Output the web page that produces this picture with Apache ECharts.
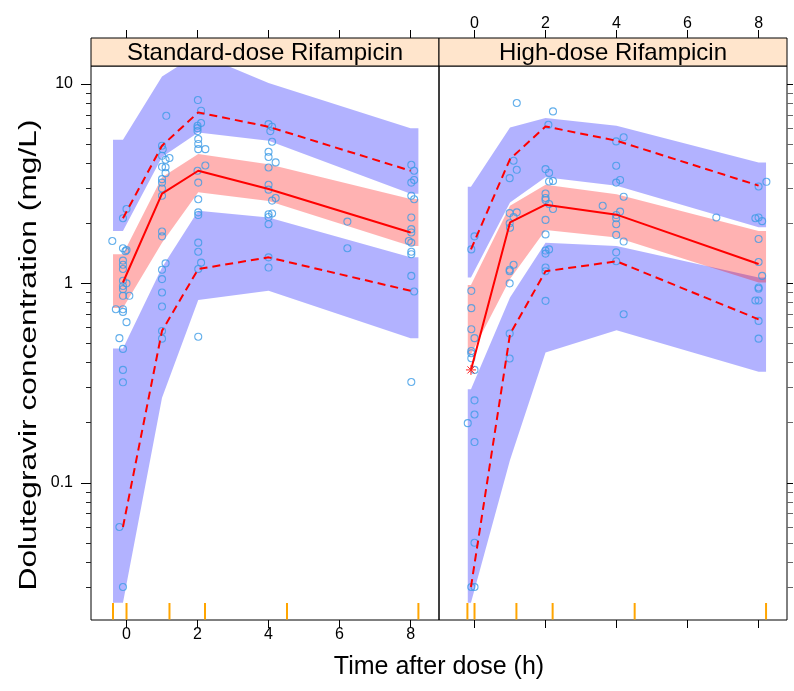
<!DOCTYPE html>
<html><head><meta charset="utf-8">
<script src="https://cdn.jsdelivr.net/npm/echarts@6/dist/echarts.min.js"></script>
<style>html,body{margin:0;padding:0;background:#fff}#c{width:794px;height:691px}</style>
</head><body><div id="c"></div>
<script>
// ---------- tick / label data ----------
const panelTitles = ['Standard-dose Rifampicin', 'High-dose Rifampicin'];
const xTicks = [0, 2, 4, 6, 8];
const yMajor = [0.1, 1, 10];
const yMinor = [0.03,0.04,0.05,0.06,0.07,0.08,0.09,0.2,0.3,0.4,0.5,0.6,0.7,0.8,0.9,2,3,4,5,6,7,8,9];
const xTitle = 'Time after dose (h)';
const yTitle = 'Dolutegravir concentration (mg/L)';

// ---------- Standard-dose panel ----------
const stdBandX      = [-0.38, -0.1, 1.0, 2.02, 4.0, 8.0, 8.22];
const stdHiUpper    = [5.25, 5.25, 10.9, 14.2, 10.1, 6.0, 6.0];
const stdHiLower    = [1.83, 1.83, 4.3, 5.7, 5.19, 2.81, 2.81];
const stdMedUpper   = [1.40, 1.40, 3.4, 4.45, 3.96, 2.65, 2.65];
const stdMedLower   = [0.753, 0.753, 1.6, 2.86, 2.59, 1.54, 1.54];
const stdLoUpper    = [0.471, 0.471, 1.2, 2.31, 2.14, 1.35, 1.35];
const stdLoLower    = [0.025, 0.025, 0.267, 0.824, 0.917, 0.531, 0.531];
const stdNodeX      = [-0.1, 1.0, 2.02, 4.0, 8.0];
const stdMedian     = [1.01, 2.82, 3.67, 2.97, 1.80];
const stdP95        = [2.12, 4.9, 7.2, 6.1, 3.67];
const stdP05        = [0.06, 0.578, 1.18, 1.35, 0.917];
const stdRug        = [-0.38, 0, 1.21, 2.21, 4.52, 8.22];
const stdObs = [
  [-0.40,1.63],[-0.10,2.12],[0.0,2.36],[-0.10,1.50],[0.0,1.47],[-0.03,1.45],[-0.10,1.30],[-0.10,1.24],
  [-0.10,1.18],[-0.10,1.03],[0.0,1.0],[-0.10,0.97],[-0.10,0.935],[-0.10,0.866],[0.08,0.866],[-0.30,0.742],
  [-0.10,0.742],[-0.10,0.719],[0.0,0.639],[-0.20,0.531],[-0.10,0.469],[-0.10,0.368],[-0.10,0.319],
  [-0.20,0.060],[-0.10,0.030],
  [1.12,6.92],[1.0,4.9],[1.02,4.7],[1.0,4.36],[1.21,4.25],[1.1,4.17],[1.0,3.84],[1.1,3.82],[1.1,3.57],
  [1.0,3.33],[1.0,3.2],[1.0,2.99],[1.0,2.75],[1.0,1.82],[1.0,1.72],[1.1,1.26],[1.0,1.17],[1.0,1.05],
  [1.0,0.9],[1.0,0.765],[1.0,0.577],[1.0,0.528],
  [2.01,8.3],[2.1,7.34],[2.1,6.37],[2.0,6.17],[2.0,6.0],[2.0,5.8],[2.02,5.29],[2.02,5.0],[2.02,4.71],
  [2.22,4.71],[2.0,3.67],[2.22,3.9],[2.02,3.2],[2.02,2.64],[2.02,2.27],[2.02,2.2],[2.02,1.6],[2.02,1.44],
  [2.1,1.27],[2.02,1.18],[2.02,0.54],
  [4.0,6.29],[4.1,6.1],[4.05,5.8],[4.1,5.13],[4.0,4.57],[4.0,4.3],[4.2,4.04],[4.0,3.81],[4.0,3.12],
  [4.0,2.95],[4.2,2.68],[4.1,2.6],[4.0,2.22],[4.1,2.24],[4.0,2.15],[4.0,1.98],[4.0,1.35],[4.0,1.2],
  [6.22,2.04],[6.22,1.50],
  [8.02,3.93],[8.1,3.67],[8.1,3.3],[8.02,3.2],[8.02,2.75],[8.1,2.64],[8.02,2.14],[8.02,1.87],[8.02,1.8],
  [7.95,1.63],[8.02,1.6],[8.02,1.44],[8.02,1.4],[8.02,1.09],[8.1,0.91],[8.02,0.32]
];

// ---------- High-dose panel ----------
const highBandX     = [-0.19, -0.1, 1.0, 2.0, 4.0, 8.0, 8.21];
const highHiUpper   = [3.05, 3.05, 6.05, 6.74, 6.17, 4.04, 4.04];
const highHiLower   = [1.07, 1.07, 2.54, 3.40, 3.09, 1.91, 1.91];
const highMedUpper  = [0.98, 0.98, 2.45, 3.12, 2.80, 1.83, 1.83];
const highMedLower  = [0.44, 0.44, 1.05, 1.85, 1.70, 1.01, 1.01];
const highLoUpper   = [0.294, 0.294, 0.85, 1.60, 1.54, 1.07, 1.07];
const highLoLower   = [0.025, 0.025, 0.13, 0.45, 0.582, 0.36, 0.36];
const highNodeX     = [-0.1, 1.0, 2.0, 4.0, 8.0];
const highMedian    = [0.368, 2.02, 2.48, 2.21, 1.25];
const highP95       = [1.48, 4.2, 6.12, 5.19, 3.09];
const highP05       = [0.030, 0.556, 1.15, 1.29, 0.66];
const highRug       = [-0.2, 0, 1.18, 2.2, 4.51, 8.21];
const highObs = [
  [-0.09,1.48],[0.0,1.72],[-0.09,0.917],[-0.09,0.751],[-0.09,0.589],[0.0,0.531],[-0.09,0.458],[-0.09,0.446],
  [-0.09,0.421],[0.0,0.368],[0.0,0.259],[0.0,0.22],[-0.19,0.199],[0.0,0.16],[0.0,0.05],[-0.09,0.03],[0.0,0.03],
  [1.19,8.02],[1.1,4.12],[1.19,3.71],[0.99,3.37],[0.99,2.25],[1.19,2.27],[1.1,2.15],[0.99,2.0],[1.0,1.9],
  [1.1,1.24],[0.99,1.17],[0.99,1.15],[0.99,1.0],[0.99,0.56],[0.99,0.42],
  [2.21,7.28],[2.08,6.24],[2.0,3.74],[2.1,3.58],[2.1,3.24],[2.21,3.26],[2.0,2.82],[2.0,2.68],[2.0,2.62],
  [2.1,2.5],[2.21,2.36],[2.0,2.08],[2.0,1.76],[2.0,1.46],[2.1,1.48],[2.0,1.41],[2.0,1.2],[2.0,1.15],[2.0,0.817],
  [3.99,5.15],[4.2,5.4],[3.99,3.89],[3.99,3.2],[4.1,3.3],[4.2,2.72],[4.1,2.29],[3.99,2.2],[3.99,2.12],
  [3.99,1.98],[3.99,1.75],[4.2,1.62],[3.99,1.43],[3.99,1.29],[4.2,0.70],
  [3.61,2.45],[6.81,2.14],
  [8.22,3.23],[8.0,3.06],[7.91,2.12],[8.0,2.14],[8.1,2.05],[8.0,1.67],[8.0,1.28],[8.1,1.09],[8.0,0.953],
  [8.0,0.94],[8.0,0.82],[7.91,0.82],[8.0,0.648],[8.0,0.528]
];

// ---------- layout / style ----------
const X_MIN = -1.0, X_MAX = 8.8, Y_MIN = 0.0205, Y_MAX = 12.3;
const FONT = '"Liberation Sans", Arial, sans-serif';
const BLUE = 'rgba(0,0,255,0.3)', RED = 'rgba(255,0,0,0.3)';
const PT = '#3c9be6';
const PLOT_TOP = 66, PLOT_H = 554, STRIP_H = 28;
const gridDefs = [{left: 91, width: 348}, {left: 439, width: 348}];

const chart = echarts.init(document.getElementById('c'), null, {renderer: 'canvas'});

function xAxisDef(gi, pos, showLabel) {
  return {
    type: 'value', gridIndex: gi, position: pos, min: X_MIN, max: X_MAX,
    offset: pos === 'top' ? STRIP_H : 0,
    axisLine: {show: false, onZero: false}, splitLine: {show: false},
    axisTick: {show: true, inside: false, length: 8, customValues: xTicks, lineStyle: {color: '#000', width: 1}},
    axisLabel: {show: showLabel, customValues: xTicks, color: '#000', fontSize: 16, fontFamily: FONT, margin: pos === 'top' ? 6 : 7}
  };
}
function yAxisDef(gi, pos, values, len, showLabel, color) {
  return {
    type: 'log', logBase: 10, gridIndex: gi, position: pos, min: Y_MIN, max: Y_MAX,
    axisLine: {show: false, onZero: false}, splitLine: {show: false}, minorTick: {show: false},
    axisTick: {show: true, inside: false, length: len, customValues: values, lineStyle: {color: color, width: 1}},
    axisLabel: {show: showLabel, customValues: values, color: '#000', fontSize: 16, fontFamily: FONT, margin: 18,
      formatter: v => String(+v.toPrecision(6))}
  };
}

function bandSeries(gi, xs, up, lo, color) {
  const verts = xs.map((x, i) => [x, up[i]]).concat(xs.map((x, i) => [x, lo[i]]).reverse());
  return {
    type: 'custom', xAxisIndex: gi * 2, yAxisIndex: gi * 2, clip: true, silent: true, z: 1,
    data: verts,
    renderItem: (params, api) => {
      if (params.dataIndex !== 0) return null;
      return {type: 'polygon', shape: {points: verts.map(v => api.coord(v))}, style: {fill: color}};
    }
  };
}
function lineSeries(gi, xs, ys, dashed) {
  return {
    type: 'line', xAxisIndex: gi * 2, yAxisIndex: gi * 2, silent: true, z: 4,
    data: xs.map((x, i) => [x, ys[i]]), symbol: 'none',
    lineStyle: {color: '#ff0000', width: 2, type: dashed ? [8, 5] : 'solid'}
  };
}
function obsSeries(gi, obs) {
  return {
    type: 'scatter', xAxisIndex: gi * 2, yAxisIndex: gi * 2, silent: true, z: 3,
    data: obs, symbol: 'circle', symbolSize: 7,
    itemStyle: {color: 'rgba(0,0,0,0)', borderColor: PT, borderWidth: 1.1}
  };
}
function rugSeries(gi, xs) {
  return {
    type: 'custom', xAxisIndex: gi * 2, yAxisIndex: gi * 2, silent: true, z: 5,
    data: xs.map(x => [x, Y_MIN]),
    renderItem: (params, api) => {
      const c = api.coord([api.value(0), api.value(1)]);
      return {type: 'line', shape: {x1: c[0], y1: c[1] - 0.5, x2: c[0], y2: c[1] - 17},
        style: {stroke: '#ffa500', lineWidth: 2}};
    }
  };
}
function starSeries(gi, pt) {
  return {
    type: 'custom', xAxisIndex: gi * 2, yAxisIndex: gi * 2, silent: true, z: 6,
    data: [pt],
    renderItem: (params, api) => {
      const c = api.coord([api.value(0), api.value(1)]);
      const r = 5, d = r * 0.7071;
      const seg = (dx, dy) => ({type: 'line', shape: {x1: c[0] - dx, y1: c[1] - dy, x2: c[0] + dx, y2: c[1] + dy},
        style: {stroke: '#ff2020', lineWidth: 1}});
      return {type: 'group', children: [seg(r, 0), seg(0, r), seg(d, d), seg(d, -d)]};
    }
  };
}

const graphics = [];
gridDefs.forEach((g, i) => {
  graphics.push({type: 'rect', silent: true, z: 10,
    shape: {x: g.left, y: PLOT_TOP - STRIP_H, width: g.width, height: STRIP_H},
    style: {fill: '#ffe5cc', stroke: '#000', lineWidth: 1}});
  graphics.push({type: 'text', silent: true, z: 11, x: g.left + g.width / 2, y: PLOT_TOP - STRIP_H / 2 + 1,
    style: {text: panelTitles[i], font: '24px ' + FONT, fill: '#000', textAlign: 'center', textVerticalAlign: 'middle'}});
});
graphics.push({type: 'text', silent: true, x: 439, y: 667,
  style: {text: xTitle, font: '25px ' + FONT, fill: '#000', textAlign: 'center', textVerticalAlign: 'middle'}});
graphics.push({type: 'text', silent: true, x: 30, y: 355, rotation: Math.PI / 2, scaleX: 1.38,
  style: {text: yTitle, font: '23px ' + FONT, fill: '#000', textAlign: 'center', textVerticalAlign: 'middle'}});

const option = {
  animation: false,
  backgroundColor: '#fff',
  grid: gridDefs.map(g => ({left: g.left, width: g.width, top: PLOT_TOP, height: PLOT_H,
    show: true, borderColor: '#000', borderWidth: 1, backgroundColor: 'rgba(0,0,0,0)',
    containLabel: false, outerBoundsMode: 'none'})),
  xAxis: [xAxisDef(0, 'bottom', true), xAxisDef(0, 'top', false), xAxisDef(1, 'bottom', false), xAxisDef(1, 'top', true)],
  yAxis: [
    yAxisDef(0, 'left', yMajor, 10, true, '#000'),
    yAxisDef(0, 'left', yMinor, 5, false, '#222'),
    yAxisDef(1, 'right', yMajor, 6, false, '#000'),
    yAxisDef(1, 'right', yMinor, 6, false, '#666')
  ],
  graphic: graphics,
  series: [
    bandSeries(0, stdBandX, stdHiUpper, stdHiLower, BLUE),
    bandSeries(0, stdBandX, stdLoUpper, stdLoLower, BLUE),
    bandSeries(0, stdBandX, stdMedUpper, stdMedLower, RED),
    obsSeries(0, stdObs),
    lineSeries(0, stdNodeX, stdMedian, false),
    lineSeries(0, stdNodeX, stdP95, true),
    lineSeries(0, stdNodeX, stdP05, true),
    rugSeries(0, stdRug),
    bandSeries(1, highBandX, highHiUpper, highHiLower, BLUE),
    bandSeries(1, highBandX, highLoUpper, highLoLower, BLUE),
    bandSeries(1, highBandX, highMedUpper, highMedLower, RED),
    obsSeries(1, highObs),
    lineSeries(1, highNodeX, highMedian, false),
    lineSeries(1, highNodeX, highP95, true),
    lineSeries(1, highNodeX, highP05, true),
    rugSeries(1, highRug),
    starSeries(1, [highNodeX[0], highMedian[0]])
  ]
};
chart.setOption(option);
</script>
</body></html>
